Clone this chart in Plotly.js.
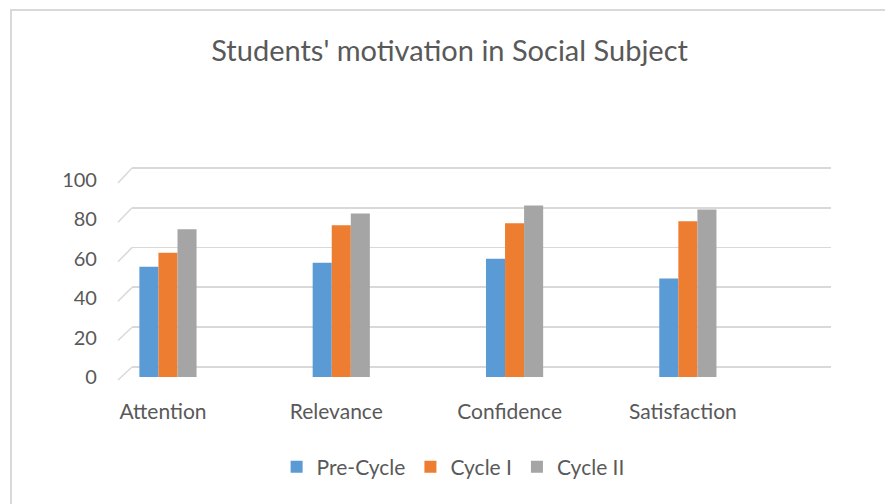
<!DOCTYPE html>
<html>
<head>
<meta charset="utf-8">
<script src="https://cdn.plot.ly/plotly-3.0.1.min.js"></script>
<style>html,body{margin:0;padding:0;background:#fff;}#chart{width:885px;height:504px;}</style>
</head>
<body>
<div id="chart"></div>
<script>
const categories = ["Attention", "Relevance", "Confidence", "Satisfaction"];
const preCycle = [56, 58, 60, 50];
const cycleI = [63, 77, 78, 79];
const cycleII = [75, 83, 87, 85];
const yTicks = [0, 20, 40, 60, 80, 100];

const FONT = "Lato, 'Liberation Sans', sans-serif";
const TXT = "#595959";

// front (bars) axis and back-wall (grid) axis domains, in paper fractions
const FRONT = [0.252, 0.643];
const BACK = [0.26788, 0.67062];
const BACK_RANGE = [-1, 101];

const traces = [
  {type: "scatter", x: [], y: [], xaxis: "x", yaxis: "y", showlegend: false, hoverinfo: "skip"},
  {type: "bar", name: "Pre-Cycle", x: categories, y: preCycle, xaxis: "x2", yaxis: "y2", marker: {color: "#5B9BD5"}},
  {type: "bar", name: "Cycle I", x: categories, y: cycleI, xaxis: "x2", yaxis: "y2", marker: {color: "#ED7D31"}},
  {type: "bar", name: "Cycle II", x: categories, y: cycleII, xaxis: "x2", yaxis: "y2", marker: {color: "#A5A5A5"}}
];

// chart frame and slanted connectors from front tick to back gridline (decoration)
const shapes = [
  {type: "rect", xref: "paper", yref: "paper", x0: 11 / 885, x1: 1.02, y0: -0.05, y1: 1 - 10 / 504, line: {color: "#d9d9d9", width: 2}, fillcolor: "rgba(0,0,0,0)", layer: "below"}
];
yTicks.forEach(v => {
  const yf = FRONT[0] + (v / 100) * (FRONT[1] - FRONT[0]) - 3 / 504;
  const yb = BACK[0] + ((v - BACK_RANGE[0]) / (BACK_RANGE[1] - BACK_RANGE[0])) * (BACK[1] - BACK[0]);
  shapes.push({type: "line", xref: "paper", yref: "paper", x0: 118 / 885, y0: yf, x1: 132 / 885, y1: yb, line: {color: "#d9d9d9", width: 1.5}, layer: "below"});
});

const layout = {
  width: 885, height: 504,
  margin: {l: 0, r: 0, t: 0, b: 0},
  paper_bgcolor: "#ffffff",
  plot_bgcolor: "rgba(0,0,0,0)",
  font: {family: FONT, color: TXT, size: 16},
  title: {text: "Students' motivation in Social Subject", font: {family: FONT, size: 29, color: TXT}, x: 0.508, xanchor: "center", y: 0.9, yanchor: "middle"},
  barmode: "group",
  bargap: 0.67,
  bargroupgap: 0,
  showlegend: true,
  legend: {orientation: "h", x: 0.512, xanchor: "center", y: 0.073, yanchor: "middle", font: {family: FONT, size: 21, color: TXT}, traceorder: "normal"},
  xaxis: {domain: [0.149, 0.939], range: [0, 1], showgrid: false, zeroline: false, showticklabels: false, showline: false, fixedrange: true},
  yaxis: {domain: BACK, range: BACK_RANGE, tickvals: yTicks, showgrid: true, gridcolor: "#d9d9d9", gridwidth: 1.8, zeroline: false, showticklabels: false, showline: false, fixedrange: true},
  xaxis2: {domain: [0.1333, 0.939], range: [-0.2885, 3.826], anchor: "y2", type: "category", showgrid: false, zeroline: false, showline: false, ticks: "", tickfont: {family: FONT, size: 21, color: TXT}, ticklabelstandoff: 20, ticklabelshift: -5},
  yaxis2: {domain: FRONT, range: [0, 100], anchor: "x2", tickvals: yTicks, showgrid: false, zeroline: false, showline: false, ticks: "", tickfont: {family: FONT, size: 20, color: TXT}, ticklabelstandoff: 20},
  shapes: shapes
};

Plotly.newPlot("chart", traces, layout, {displayModeBar: false, staticPlot: true});
</script>
</body>
</html>
